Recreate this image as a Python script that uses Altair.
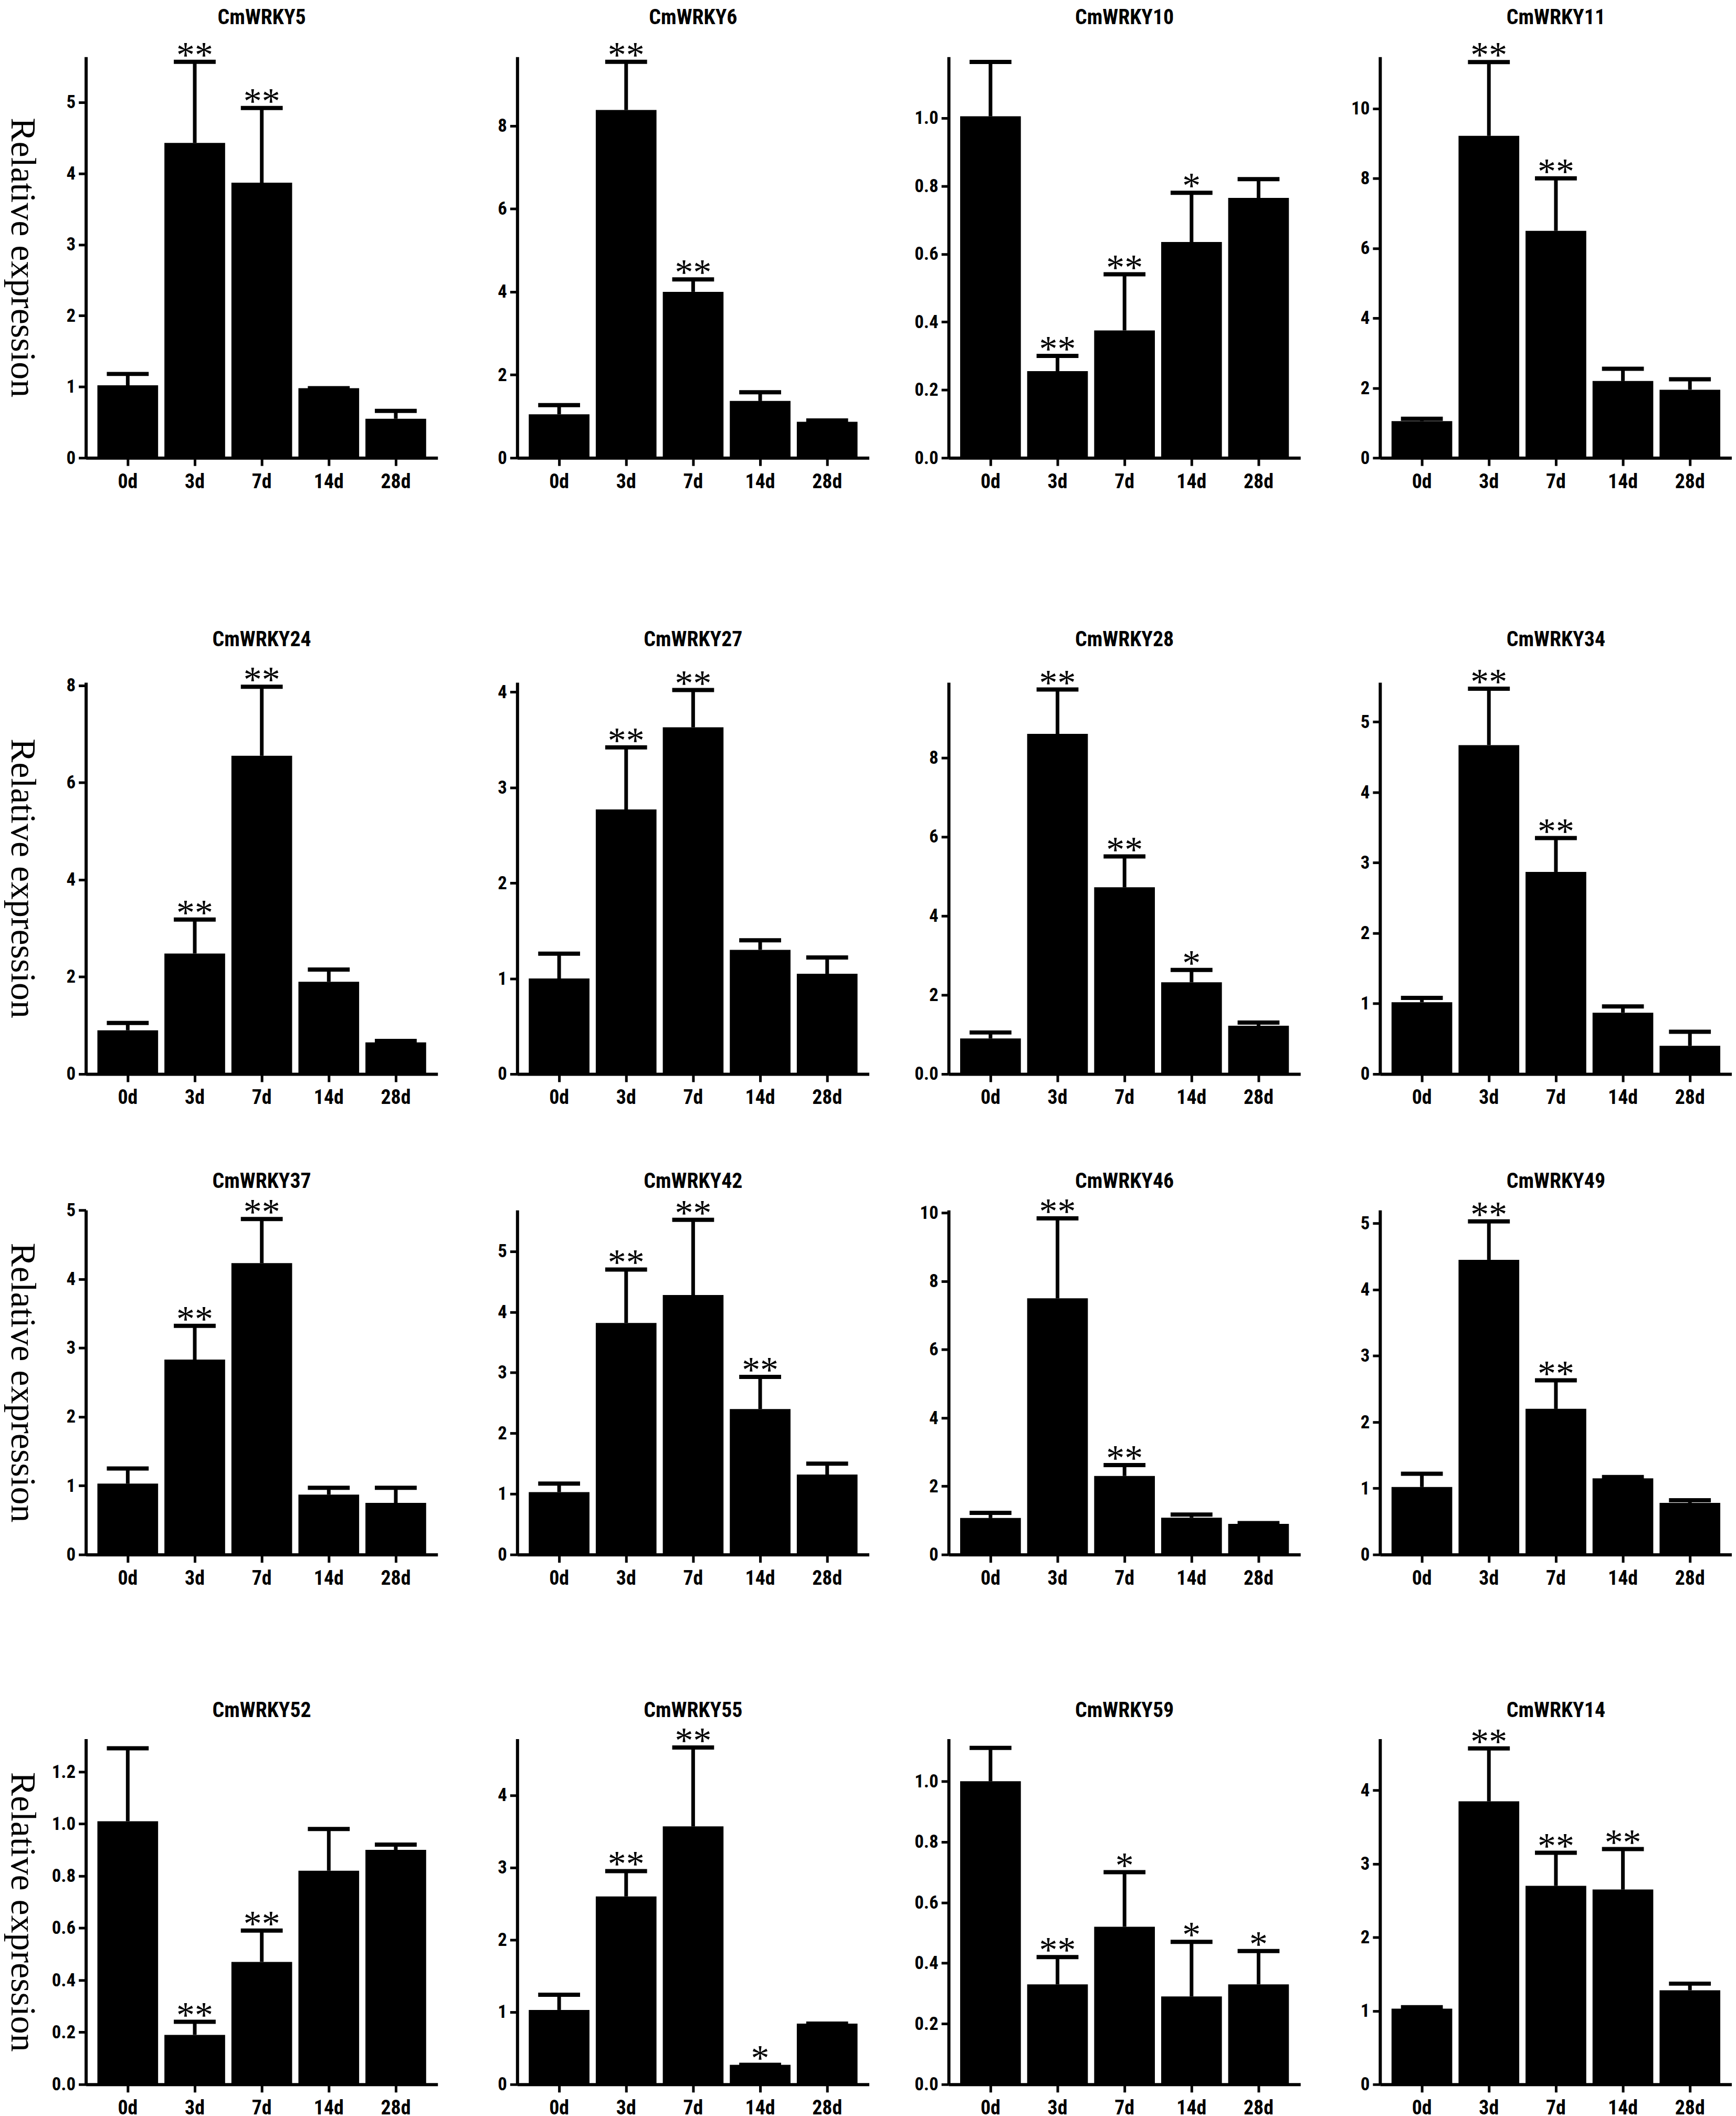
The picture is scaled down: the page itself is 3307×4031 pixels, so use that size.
import altair as alt
import pandas as pd
import numpy as np

genes = ["CmWRKY5", "CmWRKY6", "CmWRKY10", "CmWRKY11",
         "CmWRKY24", "CmWRKY27", "CmWRKY28", "CmWRKY34",
         "CmWRKY37", "CmWRKY42", "CmWRKY46", "CmWRKY49",
         "CmWRKY52", "CmWRKY55", "CmWRKY59", "CmWRKY14"]
days = ["0d", "3d", "7d", "14d", "28d"]

means = [
    [1.02, 4.43, 3.87, 0.98, 0.55],
    [1.05, 8.38, 4.00, 1.37, 0.87],
    [1.005, 0.255, 0.375, 0.635, 0.765],
    [1.05, 9.22, 6.50, 2.20, 1.95],
    [0.90, 2.48, 6.55, 1.90, 0.65],
    [1.00, 2.77, 3.63, 1.30, 1.05],
    [0.90, 8.60, 4.72, 2.32, 1.22],
    [1.02, 4.67, 2.87, 0.87, 0.40],
    [1.03, 2.83, 4.23, 0.87, 0.75],
    [1.03, 3.82, 4.28, 2.40, 1.32],
    [1.07, 7.50, 2.30, 1.08, 0.90],
    [1.02, 4.45, 2.20, 1.15, 0.78],
    [1.01, 0.19, 0.47, 0.82, 0.90],
    [1.03, 2.60, 3.57, 0.27, 0.84],
    [1.00, 0.33, 0.52, 0.29, 0.33],
    [1.03, 3.85, 2.70, 2.65, 1.28],
]
uppers = [
    [1.18, 5.57, 4.92, 0.98, 0.66],
    [1.27, 9.54, 4.30, 1.58, 0.90],
    [1.165, 0.30, 0.54, 0.78, 0.82],
    [1.12, 11.33, 8.00, 2.55, 2.25],
    [1.05, 3.18, 7.97, 2.15, 0.68],
    [1.26, 3.42, 4.02, 1.40, 1.22],
    [1.05, 9.72, 5.50, 2.63, 1.30],
    [1.08, 5.47, 3.35, 0.96, 0.60],
    [1.25, 3.32, 4.87, 0.97, 0.97],
    [1.17, 4.70, 5.52, 2.93, 1.50],
    [1.22, 9.84, 2.62, 1.17, 0.92],
    [1.22, 5.03, 2.63, 1.17, 0.82],
    [1.29, 0.24, 0.59, 0.98, 0.92],
    [1.24, 2.95, 4.66, 0.27, 0.84],
    [1.11, 0.42, 0.70, 0.47, 0.44],
    [1.05, 4.57, 3.15, 3.20, 1.37],
]
sigs = [
    ["", "**", "**", "", ""],
    ["", "**", "**", "", ""],
    ["", "**", "**", "*", ""],
    ["", "**", "**", "", ""],
    ["", "**", "**", "", ""],
    ["", "**", "**", "", ""],
    ["", "**", "**", "*", ""],
    ["", "**", "**", "", ""],
    ["", "**", "**", "", ""],
    ["", "**", "**", "**", ""],
    ["", "**", "**", "", ""],
    ["", "**", "**", "", ""],
    ["", "**", "**", "", ""],
    ["", "**", "**", "*", ""],
    ["", "**", "*", "*", "*"],
    ["", "**", "**", "**", ""],
]
y_tops = [5.64, 9.66, 1.18, 11.48, 8.06, 4.10, 9.90, 5.56,
          5.00, 5.68, 10.08, 5.20, 1.326, 4.78, 1.14, 4.70]
tick_steps = [1, 2, 0.2, 2, 2, 1, 2, 1, 1, 1, 2, 1, 0.2, 1, 0.2, 1]
tick_max = [5, 8, 1.0, 10, 8, 4, 8, 5, 5, 5, 10, 5, 1.2, 4, 1.0, 4]
decimal_panels = ["CmWRKY10", "CmWRKY52", "CmWRKY59"]

# layout (pixels)
row_heights = [766, 748, 658, 660]
title_dist = [62, 69, 42, 42]       # title baseline above plot top
top_space = [95, 329, 160, 252]     # invisible extent above plot top
BOTTOM_SPACE = 100                  # invisible extent below plot bottom
PANEL_W = 672

SANS = "Liberation Sans Narrow, Roboto Condensed, DejaVu Sans Condensed, Liberation Sans"
SERIF = "Liberation Serif, DejaVu Serif"


def panel(i, r, first_col):
    gene = genes[i]
    height = row_heights[r]
    df = pd.DataFrame({"day": days, "mean": means[i], "upper": uppers[i], "sig": sigs[i]})
    ticks = [round(v, 2) for v in np.arange(0, tick_max[i] + 1e-9, tick_steps[i])]
    label_expr = "datum.label"
    fmt = "d"
    if gene in decimal_panels:
        fmt = ".1f"
    if gene == "CmWRKY28":
        label_expr = "datum.value == 0 ? '0.0' : datum.label"
    ytitle = "Relative expression" if first_col else None
    yaxis = alt.Axis(
        values=ticks, format=fmt, labelExpr=label_expr, grid=False,
        domainColor="black", domainWidth=6, tickColor="black", tickWidth=5, tickSize=14,
        labelFont=SANS, labelFontSize=35, labelFontWeight="bold", labelColor="black",
        labelPadding=6,
        titleFont=SERIF, titleFontSize=68, titleFontWeight="normal", titleColor="black",
        titleAngle=90, titleX=-122, titleY=height / 2, titleAlign="center",
        titleBaseline="middle",
    )
    yscale = alt.Scale(domain=[0, y_tops[i]], nice=False, zero=True)
    xenc = alt.X(
        "day:N", sort=days,
        scale=alt.Scale(paddingInner=0.094, paddingOuter=0.172),
        axis=alt.Axis(title=None, labelAngle=0, domainColor="black", domainWidth=6,
                      tickColor="black", tickWidth=5, tickSize=15,
                      labelFont=SANS, labelFontSize=38, labelFontWeight="bold",
                      labelColor="black", labelPadding=12),
    )
    base = alt.Chart(df).encode(x=xenc)
    bars = base.mark_bar(color="black").encode(
        y=alt.Y("mean:Q", scale=yscale, axis=yaxis, title=ytitle))
    err = base.mark_rule(color="black", strokeWidth=7).encode(
        y=alt.Y("mean:Q", scale=yscale, axis=yaxis, title=ytitle), y2="upper:Q")
    cap = base.mark_tick(color="black", thickness=8, size=80, opacity=1).encode(
        y=alt.Y("upper:Q", scale=yscale, axis=yaxis, title=ytitle))
    star = base.mark_text(font=SERIF, fontSize=70, color="black", baseline="alphabetic",
                          dy=10).encode(
        y=alt.Y("upper:Q", scale=yscale, axis=yaxis, title=ytitle), text="sig:N")
    title = alt.Chart(pd.DataFrame({"t": [gene]})).mark_text(
        font=SANS, fontSize=40, fontWeight="bold", color="black",
        baseline="alphabetic", align="center").encode(
        x=alt.value(PANEL_W / 2), y=alt.value(-title_dist[r]), text="t:N")
    layers = [bars, err, cap, star, title]
    if first_col:
        spacer = alt.Chart(pd.DataFrame({"s": [0]})).mark_rule(
            strokeOpacity=0, strokeWidth=1).encode(
            x=alt.value(PANEL_W / 2),
            y=alt.value(-top_space[r]), y2=alt.value(height + BOTTOM_SPACE))
        layers.append(spacer)
    return alt.layer(*layers).properties(width=PANEL_W, height=height)


rows = []
for r in range(4):
    panels = [panel(r * 4 + c, r, c == 0) for c in range(4)]
    rows.append(alt.hconcat(*panels, spacing=152, bounds="flush").resolve_scale(
        x="independent", y="independent"))

chart = alt.vconcat(*rows, spacing=0).properties(
    padding=0, background="white"
).configure_view(stroke=None)

chart.save("out.html", embed_options={"renderer": "svg", "actions": False})
